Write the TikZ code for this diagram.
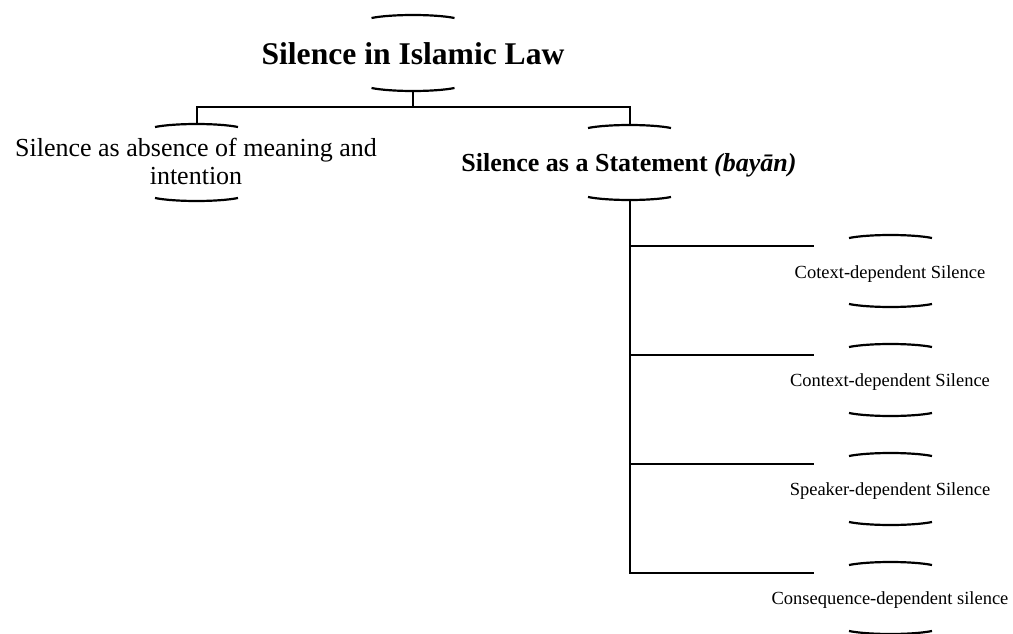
\documentclass[tikz,border=0pt]{standalone}
\usepackage{fontspec}
\setmainfont{Liberation Serif}
% a pair of shallow arcs above and below a label: centre x, upper apex y, lower apex y
\newcommand\arcpair[3]{%
  \draw[arcline] (#1-41.5,#2+3) .. controls +(20,-4) and +(-20,-4) .. (#1+41.5,#2+3);
  \draw[arcline] (#1-41.5,#3-3) .. controls +(20,4) and +(-20,4) .. (#1+41.5,#3-3);
}
\begin{document}
\begin{tikzpicture}[x=1pt,y=-1pt,
  link/.style={line width=2.4pt},
  arcline/.style={line width=2.2pt},
  lbl/.style={inner sep=0pt, anchor=base},
  titlelbl/.style={lbl, font=\fontsize{31.6}{38}\selectfont\bfseries},
  mainlbl/.style={lbl, font=\fontsize{26}{28}\selectfont, align=center},
  boldlbl/.style={lbl, font=\fontsize{26}{29}\selectfont\bfseries},
  smalllbl/.style={lbl, font=\fontsize{18.5}{22}\selectfont}]
\useasboundingbox (0,0) rectangle (1013,634);

% labels (the two-line label is placed by the baseline of its last line)
\node[titlelbl] (T) at (413,65) {Silence in Islamic Law};
\node[mainlbl]  (L) at (196,184) {Silence as absence of meaning and\\intention};
\node[boldlbl]  (R) at (629,171) {Silence as a Statement \textit{(bayān)}};
\node[smalllbl] (S1) at (890,278) {Cotext-dependent Silence};
\node[smalllbl] (S2) at (890,386) {Context-dependent Silence};
\node[smalllbl] (S3) at (890,495) {Speaker-dependent Silence};
\node[smalllbl] (S4) at (890,604) {Consequence-dependent silence};

% arc pairs framing each label
\arcpair{413}{15}{91}
\arcpair{196.5}{124}{201}
\arcpair{629.5}{125}{200}
\arcpair{890.5}{235}{307}
\arcpair{890.5}{344}{416}
\arcpair{890.5}{453}{525}
\arcpair{890.5}{562}{634}

% connection points
\coordinate (Tb) at (413,91);
\coordinate (J)  at (413,107);
\coordinate (Lt) at (197,124);
\coordinate (Rt) at (630,125);
\coordinate (Rb) at (630,200);
\coordinate (E1) at (814,246);
\coordinate (E2) at (814,355);
\coordinate (E3) at (814,464);
\coordinate (E4) at (814,573);

% tree connectors
\draw[link] (Tb) -- (J);
\draw[link] (Lt) |- (J) -| (Rt);
\draw[link] (Rb) |- (E4);
\draw[link] (Rb |- E1) -- (E1);
\draw[link] (Rb |- E2) -- (E2);
\draw[link] (Rb |- E3) -- (E3);
\end{tikzpicture}
\end{document}
